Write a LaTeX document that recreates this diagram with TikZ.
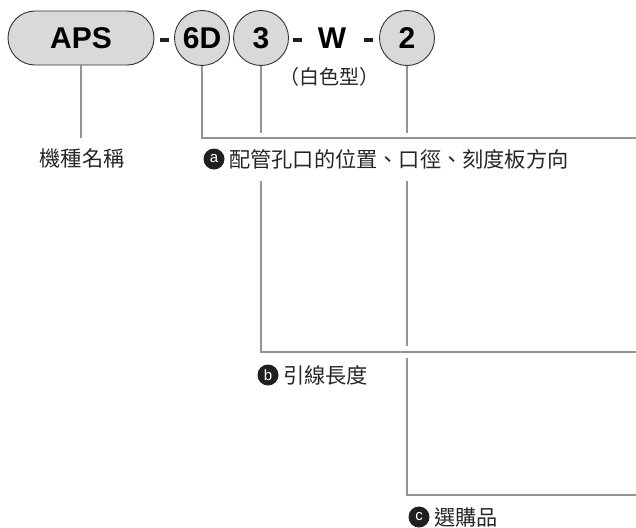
\documentclass[tikz,border=0pt]{standalone}
\usepackage{fontspec}
\setmainfont{Liberation Sans}
\newfontfamily\cjk{Noto Sans CJK TC}
\begin{document}
\begin{tikzpicture}[x=1pt,y=-1pt,
  pill/.style={draw=black!80,line width=0.9pt,fill=black!15,rounded corners=27pt,minimum width=146pt,minimum height=54pt,inner sep=0pt,font=\fontsize{30}{32}\selectfont\bfseries},
  bubble/.style={circle,draw=black!80,line width=0.9pt,fill=black!15,minimum size=55pt,inner sep=0pt,font=\fontsize{30}{32}\selectfont\bfseries},
  sep/.style={inner sep=0pt,font=\fontsize{30}{32}\selectfont\bfseries},
  dashmark/.style={fill=black!88,minimum width=9pt,minimum height=4pt,inner sep=0pt},
  lead/.style={draw=black!42,line width=2.2pt},
  cjktext/.style={inner sep=0pt,font=\cjk\fontsize{21.2}{23}\selectfont,text=black!85},
  tag/.style={circle,fill=black!88,text=white,minimum size=21pt,inner sep=0pt,font=\fontsize{15}{15}\selectfont}
]
\useasboundingbox (0,0) rectangle (636,527);
% code parts
\node[pill] (aps) at (81,38) {APS};
\node[dashmark] (s1) at (164,40) {};
\node[bubble] (d6) at (202,38) {6D};
\node[bubble] (d3) at (261,38) {3};
\node[dashmark] (s2) at (297,40) {};
\node[sep] (w) at (332,38) {W};
\node[dashmark] (s3) at (368,40) {};
\node[bubble] (d2) at (407,38) {2};
\node[inner sep=0pt,font=\cjk\fontsize{20}{22}\selectfont,text=black!85] (white) at (329,77) {（白色型）};
% labels
\node[cjktext] (lname) at (82,158) {機種名稱};
\node[tag] (ta) at (214,159) {a};
\node[cjktext,anchor=west] (la) at (229,159) {配管孔口的位置、口徑、刻度板方向};
\node[tag] (tb) at (268,375) {b};
\node[cjktext,anchor=west] (lb) at (283,375) {引線長度};
\node[tag] (tc) at (419,517) {c};
\node[cjktext,anchor=west] (lc) at (434,517) {選購品};
% coordinates
\coordinate (nA) at (aps.south |- 0,138);
\coordinate (ca) at (202,138);
\coordinate (ea) at (636,138);
\coordinate (g3a) at (261,133);
\coordinate (g3b) at (261,181);
\coordinate (cb) at (261,352);
\coordinate (eb) at (636,352);
\coordinate (g2a) at (407,133);
\coordinate (g2b) at (407,181);
\coordinate (g2c) at (407,346);
\coordinate (g2d) at (407,358);
\coordinate (cc) at (407,495);
\coordinate (ec) at (636,495);
% leaders
\draw[lead] (aps.south) -- (nA);
\draw[lead] (d6.south) -- (ca) -- (ea);
\draw[lead] (d3.south) -- (g3a);
\draw[lead] (g3b) -- (cb) -- (eb);
\draw[lead] (d2.south) -- (g2a);
\draw[lead] (g2b) -- (g2c);
\draw[lead] (g2d) -- (cc) -- (ec);
\end{tikzpicture}
\end{document}
